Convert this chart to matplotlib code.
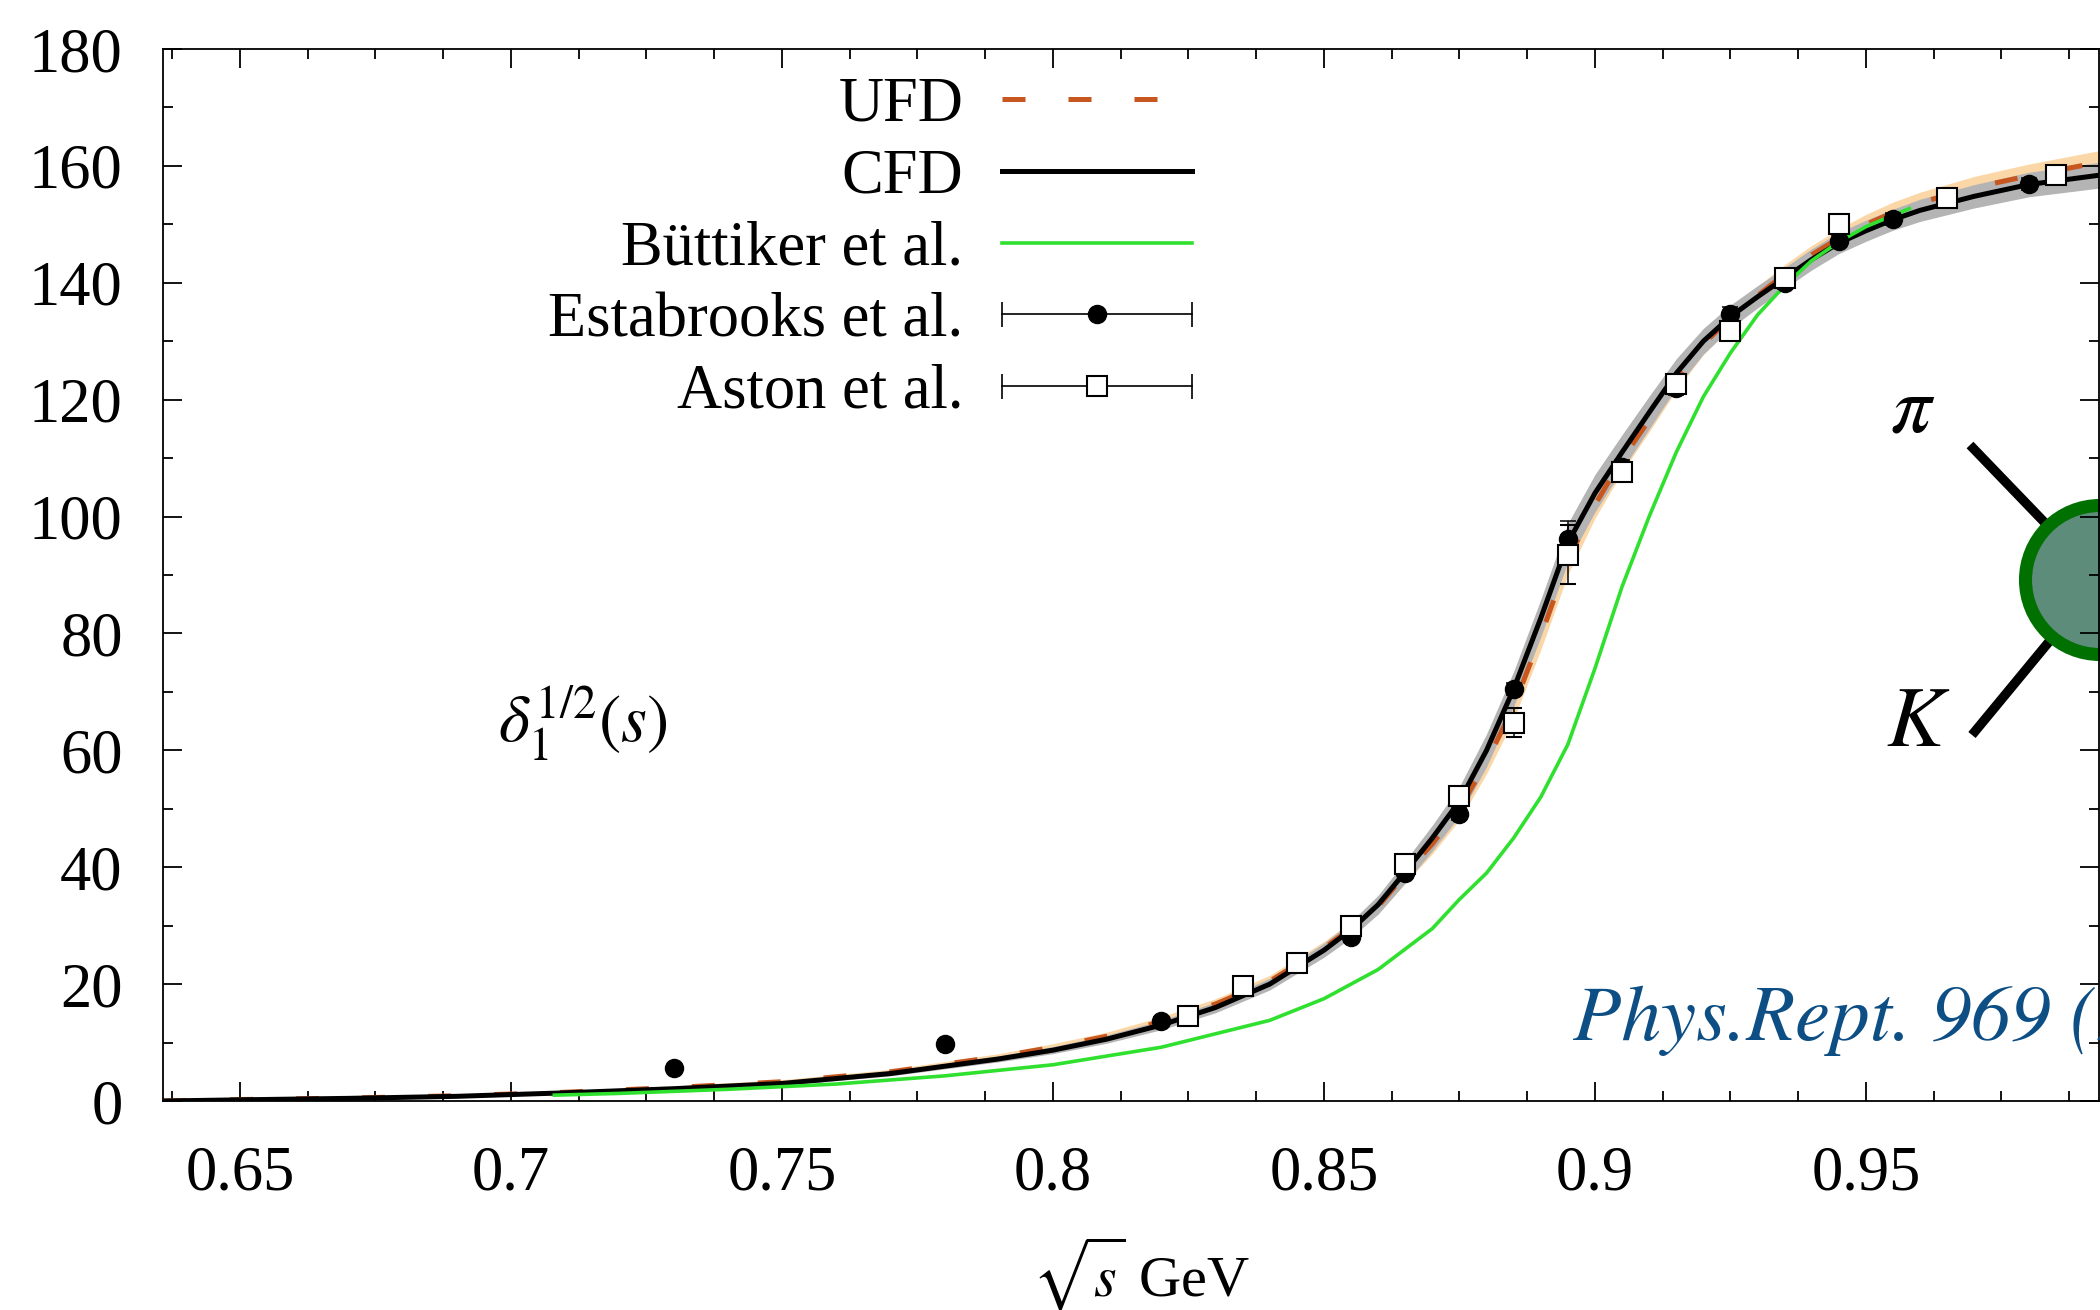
import numpy as np
import matplotlib.pyplot as plt
from matplotlib.lines import Line2D
from matplotlib.patches import Circle
from matplotlib.legend_handler import HandlerLine2D, HandlerTuple
from matplotlib.ticker import MultipleLocator, FuncFormatter

plt.rcParams['font.family'] = ['Liberation Serif', 'DejaVu Serif']
plt.rcParams['mathtext.fontset'] = 'stix'

# fitted phase shifts (CFD / UFD) on a common energy grid, with band half-widths
x_fit = [0.636, 0.65, 0.67, 0.69, 0.71, 0.73, 0.75, 0.77, 0.79, 0.80,
         0.81, 0.82, 0.83, 0.84, 0.85, 0.855, 0.86, 0.865, 0.87, 0.875,
         0.88, 0.885, 0.89, 0.895, 0.90, 0.905, 0.91, 0.915, 0.92, 0.925,
         0.93, 0.935, 0.94, 0.945, 0.95, 0.955, 0.96, 0.97, 0.98, 0.993]
cfd = [0.0, 0.2, 0.45, 0.8, 1.4, 2.1, 3.0, 4.7, 7.2, 8.7,
       10.6, 13.0, 16.0, 20.0, 25.8, 29.3, 33.6, 39.2, 45.0, 51.3,
       60.0, 70.5, 82.6, 95.5, 104.0, 111.0, 117.8, 124.5, 130.0, 134.2,
       137.6, 140.8, 144.0, 146.8, 148.9, 150.8, 152.4, 154.8, 156.8, 158.4]
cfd_err = [0.0, 0.1, 0.15, 0.2, 0.25, 0.3, 0.35, 0.4, 0.5, 0.6,
           0.7, 0.8, 0.9, 1.0, 1.2, 1.4, 1.6, 1.9, 2.2, 2.5,
           2.8, 3.0, 3.2, 3.3, 3.2, 3.0, 2.8, 2.5, 2.2, 2.0,
           1.9, 1.8, 1.8, 1.8, 1.8, 1.8, 1.9, 2.0, 2.1, 2.2]
ufd = [0.0, 0.25, 0.5, 0.9, 1.5, 2.3, 3.3, 5.0, 7.6, 9.2,
       11.1, 13.6, 16.6, 20.5, 26.2, 29.5, 33.3, 38.8, 44.0, 50.0,
       58.0, 67.5, 79.5, 92.5, 102.0, 109.8, 116.5, 123.5, 129.5, 134.0,
       137.8, 141.5, 144.8, 147.6, 150.0, 152.0, 153.7, 156.3, 158.3, 160.6]
ufd_err = [0.0, 0.1, 0.15, 0.2, 0.25, 0.3, 0.35, 0.4, 0.5, 0.6,
           0.7, 0.8, 0.9, 1.0, 1.1, 1.2, 1.3, 1.5, 1.7, 1.9,
           2.0, 2.2, 2.3, 2.4, 2.3, 2.2, 2.0, 1.9, 1.8, 1.7,
           1.6, 1.6, 1.6, 1.6, 1.7, 1.8, 1.8, 1.9, 2.0, 2.0]

# Buttiker et al.
x_butt = [0.708, 0.72, 0.74, 0.76, 0.78, 0.80, 0.82, 0.84, 0.85, 0.86,
          0.87, 0.875, 0.88, 0.885, 0.89, 0.895, 0.90, 0.905, 0.91, 0.915,
          0.92, 0.925, 0.93, 0.935, 0.94, 0.945, 0.95, 0.958]
y_butt = [1.0, 1.3, 2.0, 2.9, 4.3, 6.2, 9.2, 13.8, 17.5, 22.5,
          29.5, 34.5, 39.0, 45.0, 52.0, 61.0, 74.0, 88.0, 100.0, 111.0,
          120.5, 128.0, 134.5, 139.5, 143.8, 147.0, 149.6, 152.7]

# Estabrooks et al.
x_est = [0.73, 0.78, 0.82, 0.855, 0.865, 0.875, 0.885, 0.895, 0.905, 0.915,
         0.925, 0.935, 0.945, 0.955, 0.98]
y_est = [5.6, 9.8, 13.7, 28.0, 39.0, 49.1, 70.5, 96.2, 108.5, 122.0,
         134.7, 140.0, 147.2, 150.9, 156.9]
e_est = [0.6, 0.6, 0.6, 0.8, 0.8, 1.0, 1.0, 3.0, 1.2, 1.2,
         1.2, 1.0, 1.0, 1.0, 1.0]

# Aston et al.
x_ast = [0.825, 0.835, 0.845, 0.855, 0.865, 0.875, 0.885, 0.895, 0.905, 0.915,
         0.925, 0.935, 0.945, 0.965, 0.985]
y_ast = [14.5, 19.6, 23.6, 30.0, 40.6, 52.2, 64.7, 93.5, 107.7, 122.6,
         131.8, 140.8, 150.0, 154.5, 158.5]
e_ast = [0.6, 0.6, 0.6, 0.8, 0.8, 1.0, 2.5, 5.0, 1.5, 1.2,
         1.2, 1.0, 1.0, 1.0, 1.0]

labels = ['UFD', 'CFD', 'Büttiker et al.', 'Estabrooks et al.', 'Aston et al.']

W, H = 2100, 1310
fig = plt.figure(figsize=(W / 100, H / 100), dpi=100)
ax = fig.add_axes([163 / W, 209 / H, 1936 / W, 1052 / H])

xf = np.array(x_fit)
ax.fill_between(xf, np.array(ufd) - ufd_err, np.array(ufd) + ufd_err,
                color='#fbd6a6', lw=0, zorder=1)
ax.fill_between(xf, np.array(cfd) - cfd_err, np.array(cfd) + cfd_err,
                color='#b4b4b4', lw=0, zorder=1.1)
h_ufd, = ax.plot(x_fit, ufd, color='#c8561f', lw=3.6,
                 ls=(0, (4.6, 8.6)), zorder=2)
h_cfd, = ax.plot(x_fit, cfd, color='black', lw=3.6, zorder=3)
h_butt, = ax.plot(x_butt, y_butt, color='#2fe02f', lw=2.6, zorder=4)

ax.errorbar(x_est, y_est, yerr=e_est, fmt='o', ms=13, color='black',
            elinewidth=1.1, capsize=6, capthick=1.1, zorder=5)
ax.errorbar(x_ast, y_ast, yerr=e_ast, fmt='s', ms=14, mfc='white',
            mec='black', mew=1.5, color='black', elinewidth=1.1,
            capsize=6, capthick=1.1, zorder=6)

# legend samples for the data sets: horizontal bar with end caps + marker
bar_e = Line2D([], [], color='black', lw=1.2, marker='|', ms=18, mew=1.2)
dot_e = Line2D([], [], ls='none', marker='o', ms=13, color='black')
bar_a = Line2D([], [], color='black', lw=1.2, marker='|', ms=18, mew=1.2)
sq_a = Line2D([], [], ls='none', marker='s', ms=14, mfc='white',
              mec='black', mew=1.5)
hmap = {bar_e: HandlerLine2D(numpoints=2, marker_pad=0),
        bar_a: HandlerLine2D(numpoints=2, marker_pad=0),
        tuple: HandlerTuple(ndivide=1)}
ax.legend([h_ufd, h_cfd, h_butt, (bar_e, dot_e), (bar_a, sq_a)], labels,
          handler_map=hmap, markerfirst=False, frameon=False,
          loc='upper right', bbox_to_anchor=(0.5315, 0.9734),
          borderaxespad=0, borderpad=0, fontsize=45,
          handlelength=3.04, handletextpad=0.62, labelspacing=0.22)

ax.set_xlim(0.6358, 0.993)
ax.set_ylim(0, 180)
ax.xaxis.set_major_locator(MultipleLocator(0.05))
ax.xaxis.set_minor_locator(MultipleLocator(0.0125))
ax.yaxis.set_major_locator(MultipleLocator(20))
ax.yaxis.set_minor_locator(MultipleLocator(10))
ax.xaxis.set_major_formatter(FuncFormatter(lambda v, p: '%g' % round(v, 3)))
ax.tick_params(which='both', direction='in', top=True, right=True,
               width=1.3, labelsize=45)
ax.tick_params(which='major', length=14)
ax.tick_params(which='minor', length=7)
ax.tick_params(axis='y', pad=29)
ax.tick_params(axis='x', pad=32)
for s in ax.spines.values():
    s.set_linewidth(1.3)

fig.text(1141 / W, 1 - 1296 / H, r'$\sqrt{s}$ GeV', fontsize=42,
         ha='center', va='baseline')

fig.text(583 / W, 1 - 723 / H, r'$\delta_1^{1/2}(s)$', fontsize=48,
         ha='center', va='center')

# pi K scattering blob on the right edge
tr = fig.dpi_scale_trans
ax.add_line(Line2D([19.70, 21.0], [(H - 445) / 100, (H - 580) / 100],
                   color='black', lw=6.8, transform=tr, clip_on=False,
                   zorder=1.4, solid_capstyle='butt'))
ax.add_line(Line2D([19.72, 21.0], [(H - 735) / 100, (H - 580) / 100],
                   color='black', lw=6.8, transform=tr, clip_on=False,
                   zorder=1.4, solid_capstyle='butt'))
ax.add_patch(Circle((21.0, (H - 580) / 100), 0.745, transform=tr,
                    facecolor='#5e8c7a', edgecolor='#007000', lw=9.4,
                    clip_on=False, zorder=1.5))
fig.text(1913 / W, 1 - 412 / H, r'$\pi$', fontsize=58, ha='center', va='center')
fig.text(1918 / W, 1 - 725 / H, r'$K$', fontsize=62, ha='center', va='center')

fig.text(1573 / W, 1 - 1040 / H, 'Phys.Rept. 969 (2022)', fontsize=57,
         family='STIXGeneral', style='italic', color='#0d4f84',
         ha='left', va='baseline')

fig.savefig('out.png', dpi=100)
